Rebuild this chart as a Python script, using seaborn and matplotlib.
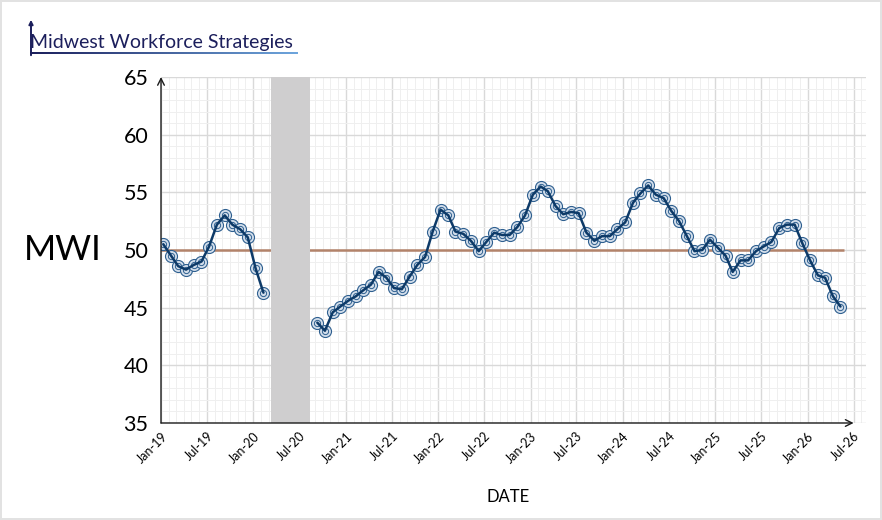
import matplotlib
matplotlib.use("Agg")
import matplotlib.pyplot as plt
import matplotlib.dates as mdates
from matplotlib.ticker import MultipleLocator
from matplotlib.patches import FancyArrowPatch
from matplotlib.colors import LinearSegmentedColormap
import seaborn as sns
import pandas as pd
import numpy as np

# monthly MWI readings: Jan-19..Feb-20, then Sep-20..May-26
pre_start = "2019-01-10"
pre_values = [50.5, 49.5, 48.6, 48.3, 48.7, 49.0, 50.3, 52.2, 53.0, 52.2,
              51.8, 51.1, 48.4, 46.3]
post_start = "2020-09-10"
post_values = [43.7, 43.0, 44.6, 45.1, 45.6, 46.0, 46.5, 47.0, 48.1, 47.6,
               46.7, 46.6, 47.7, 48.7, 49.4, 51.6, 53.5, 53.0, 51.6, 51.4,
               50.8, 49.9, 50.7, 51.5, 51.3, 51.3, 52.0, 53.0, 54.8, 55.5,
               55.1, 53.8, 53.1, 53.3, 53.2, 51.5, 50.8, 51.2, 51.2, 51.8,
               52.4, 54.1, 54.9, 55.6, 54.8, 54.5, 53.4, 52.5, 51.2, 49.9,
               50.0, 50.9, 50.2, 49.5, 48.1, 49.1, 49.1, 49.9, 50.3, 50.7,
               51.9, 52.2, 52.2, 50.6, 49.1, 47.8, 47.6, 46.0, 45.1]
gap_start, gap_end = "2020-03-12", "2020-08-12"
neutral = 50
neutral_end = "2026-05-25"
tick_dates = pd.date_range("2019-01-01", "2026-07-01", freq="6MS")

monthly = pd.DateOffset(months=1)
df = pd.concat([
    pd.DataFrame({"date": pd.date_range(pre_start, periods=len(pre_values), freq=monthly),
                  "mwi": pre_values, "seg": 0}),
    pd.DataFrame({"date": pd.date_range(post_start, periods=len(post_values), freq=monthly),
                  "mwi": post_values, "seg": 1}),
], ignore_index=True)

sns.set_theme(style="white")
plt.rcParams["font.family"] = ["Lato", "DejaVu Sans"]
plt.rcParams.update({"text.color": "black", "axes.labelcolor": "black",
                     "xtick.color": "black", "ytick.color": "black"})

fig = plt.figure(figsize=(8.82, 5.2), dpi=100)
fig.patch.set_edgecolor("#e2e2e2")
fig.patch.set_linewidth(1.5)
ax = fig.add_axes([161 / 882, 97 / 520, 705 / 882, 346 / 520])

navy = "#0d3a68"
ring = "#2f6090"
sns.scatterplot(data=df, x="date", y="mwi", s=75, color="#d3deeb", edgecolor=ring,
                linewidth=0.8, zorder=3, legend=False, ax=ax)
sns.scatterplot(data=df, x="date", y="mwi", s=20, color="#d3deeb", edgecolor=ring,
                linewidth=0.7, zorder=3, legend=False, ax=ax)
sns.lineplot(data=df, x="date", y="mwi", units="seg", estimator=None, color=navy,
             linewidth=1.8, zorder=4, legend=False, ax=ax)

x0 = mdates.date2num(tick_dates[0])
x1 = mdates.date2num(tick_dates[-1])
ax.hlines(neutral, x0, mdates.date2num(pd.Timestamp(neutral_end)), color="#b3836a",
          linewidth=1.8, zorder=2)
ax.axvspan(mdates.date2num(pd.Timestamp(gap_start)), mdates.date2num(pd.Timestamp(gap_end)),
           color="#cfcecf", zorder=2.5, linewidth=0)

ax.set_xlim(x0, mdates.date2num(pd.Timestamp("2026-08-19")))
ax.set_ylim(35, 65)
ax.set_xticks(tick_dates)
ax.set_xticklabels([d.strftime("%b-%y") for d in tick_dates], rotation=45,
                   ha="right", rotation_mode="anchor")
ax.xaxis.set_minor_locator(mdates.MonthLocator())
ax.yaxis.set_major_locator(MultipleLocator(5))
ax.yaxis.set_minor_locator(MultipleLocator(1))
ax.grid(which="major", color="#d9d9d9", linewidth=1)
ax.grid(which="minor", color="#efefef", linewidth=0.7)
ax.set_axisbelow(True)
ax.tick_params(axis="x", which="major", direction="inout", length=6, width=1,
               color="k", labelsize=9, pad=2)
ax.tick_params(axis="y", which="major", direction="out", length=6, width=1,
               color="k", labelsize=15.5, pad=3)
ax.tick_params(which="minor", length=0)

for s in ax.spines.values():
    s.set_visible(False)
ax.annotate("", xy=(x1, 35), xytext=(x0, 35), annotation_clip=False,
            arrowprops=dict(arrowstyle="->", color="k", lw=1, shrinkA=0, shrinkB=0))
ax.annotate("", xy=(x0, 65), xytext=(x0, 35), annotation_clip=False,
            arrowprops=dict(arrowstyle="->", color="k", lw=1, shrinkA=0, shrinkB=0))

ax.set_xlabel("DATE", fontsize=12)
ax.xaxis.set_label_coords(0.493, -0.19)
ax.set_ylabel("MWI", fontsize=25, rotation=0, va="center", ha="center")
ax.yaxis.set_label_coords(-0.14, 0.5)

# logo
logo = "#1c1f5c"
fig.text(30 / 882, 1 - 48 / 520, "Midwest Workforce Strategies", fontsize=14,
         color=logo, va="baseline", ha="left")
lax = fig.add_axes([30 / 882, 1 - 54.5 / 520, 268 / 882, 2.5 / 520])
lax.imshow(np.linspace(0, 1, 256)[None, :], aspect="auto",
           cmap=LinearSegmentedColormap.from_list("u", [logo, "#6ea6dd"]))
lax.axis("off")
fig.add_artist(FancyArrowPatch((31 / 882, 1 - 58 / 520), (31 / 882, 1 - 17 / 520),
                               transform=fig.transFigure, arrowstyle="-|>",
                               mutation_scale=6, color=logo, lw=1.4))

fig.savefig("out.png", dpi=100)
